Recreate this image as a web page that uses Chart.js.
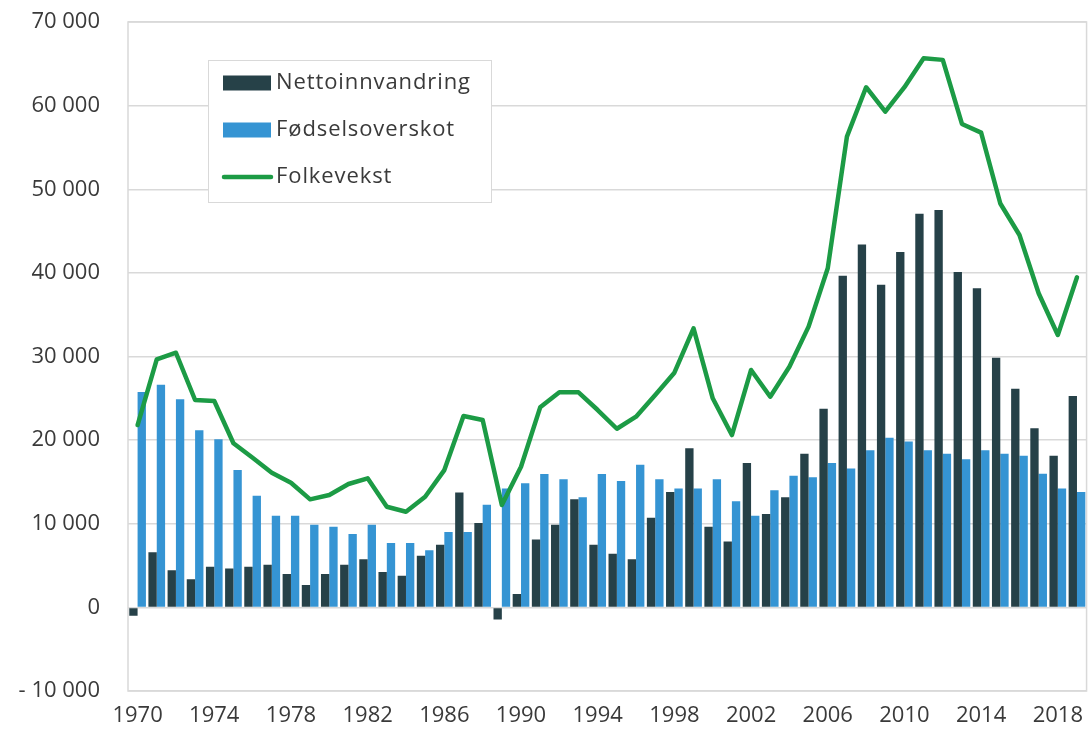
<!DOCTYPE html>
<html>
<head>
<meta charset="utf-8">
<script src="https://cdn.jsdelivr.net/npm/chart.js@4/dist/chart.umd.min.js"></script>
<style>
  html, body { margin: 0; padding: 0; background: #ffffff; }
  #wrap { width: 1089px; height: 729px; position: relative; }
</style>
</head>
<body>
<div id="wrap"><canvas id="c"></canvas></div>
<script>
const years = [];
for (let y = 1970; y <= 2019; y++) years.push(String(y));

const nettoinnvandring = [
  -1000, 6580, 4430, 3350, 4860, 4660, 4860, 5100, 3980, 2670,
  3980, 5100, 5740, 4220, 3780, 6170, 7490, 13750, 10080, -1440,
  1590, 8130, 9880, 12920, 7490, 6420, 5740, 10720, 13790, 19020,
  9640, 7890, 17260, 11160, 13160, 18380, 23760, 39670, 43380, 38590,
  42500, 47080, 47520, 40110, 38150, 29860, 26150, 21410, 18140, 25280
];

const fodselsoverskot = [
  25750, 26630, 24880, 21170, 20100, 16420, 13350, 10960, 10960, 9880,
  9640, 8770, 9880, 7690, 7690, 6820, 9010, 9010, 12270, 14230,
  14830, 15940, 15310, 13160, 15940, 15110, 17060, 15310, 14230, 14230,
  15310, 12680, 10960, 14000, 15740, 15550, 17260, 16620, 18780, 20290,
  19850, 18780, 18380, 17700, 18780, 18380, 18140, 15980, 14230, 13790
];

const folkevekst = [
  21800, 29650, 30450, 24800, 24680, 19620, 17900, 16100, 14900, 12920,
  13430, 14750, 15430, 12030, 11440, 13230, 16420, 22880, 22400, 12240,
  16820, 23920, 25720, 25720, 23600, 21360, 22800, 25400, 28060, 33370,
  25000, 20610, 28390, 25190, 28780, 33570, 40550, 56300, 62200, 59280,
  62200, 65670, 65470, 57810, 56770, 48300, 44530, 37560, 32570, 39470
];

const seriesNames = ['Nettoinnvandring', 'Fødselsoverskot', 'Folkevekst'];
const yMin = -10000, yMax = 70000, yStep = 10000;

const COL_DARK = '#264148';
const COL_BLUE = '#3594d3';
const COL_GREEN = '#1c9b45';
const GRID = '#d9d9d9';
const TEXT = '#3a3a3a';
const FONT = "'Open Sans', 'DejaVu Sans', sans-serif";

function fmt(v) {
  const neg = v < 0;
  const s = String(Math.abs(v)).replace(/\B(?=(\d{3})+(?!\d))/g, ' ');
  return neg ? '- ' + s : s;
}

const frameAndLegend = {
  id: 'frameAndLegend',
  beforeDatasetsDraw(chart) {
    const { ctx, chartArea: a } = chart;
    ctx.save();
    ctx.strokeStyle = GRID;
    ctx.lineWidth = 1.5;
    ctx.strokeRect(a.left, a.top, a.right - a.left, a.bottom - a.top);
    ctx.restore();
  },
  afterDatasetsDraw(chart) {
    const ctx = chart.ctx;
    ctx.save();
    const bx = 208, by = 60, bw = 283, bh = 142;
    ctx.fillStyle = '#ffffff';
    ctx.fillRect(bx, by, bw, bh);
    ctx.strokeStyle = '#d9d9d9';
    ctx.lineWidth = 1;
    ctx.strokeRect(bx + 0.5, by + 0.5, bw, bh);
    const rows = [83, 130, 177];
    const colors = [COL_DARK, COL_BLUE, COL_GREEN];
    ctx.font = "22px " + FONT;
    ctx.textBaseline = 'middle';
    ctx.textAlign = 'left';
    try { ctx.letterSpacing = '0.9px'; } catch (e) {}
    for (let i = 0; i < 3; i++) {
      const cy = rows[i];
      if (i < 2) {
        ctx.fillStyle = colors[i];
        ctx.fillRect(223, cy - 7.5, 48, 15);
      } else {
        ctx.strokeStyle = colors[i];
        ctx.lineWidth = 4.5;
        ctx.lineCap = 'round';
        ctx.beginPath();
        ctx.moveTo(224, cy);
        ctx.lineTo(271, cy);
        ctx.stroke();
      }
      ctx.fillStyle = TEXT;
      ctx.fillText(seriesNames[i], 276, cy);
    }
    ctx.restore();
  }
};

new Chart(document.getElementById('c'), {
  data: {
    labels: years,
    datasets: [
      {
        type: 'line',
        label: seriesNames[2],
        data: folkevekst,
        borderColor: COL_GREEN,
        backgroundColor: COL_GREEN,
        borderWidth: 4.5,
        pointRadius: 0,
        tension: 0,
        borderJoinStyle: 'round',
        borderCapStyle: 'round',
        order: 0
      },
      {
        type: 'bar',
        label: seriesNames[0],
        data: nettoinnvandring,
        backgroundColor: COL_DARK,
        categoryPercentage: 0.87,
        barPercentage: 1.0,
        order: 1
      },
      {
        type: 'bar',
        label: seriesNames[1],
        data: fodselsoverskot,
        backgroundColor: COL_BLUE,
        categoryPercentage: 0.87,
        barPercentage: 1.0,
        order: 1
      }
    ]
  },
  options: {
    responsive: true,
    maintainAspectRatio: false,
    animation: false,
    layout: { padding: { left: 0, top: 22, right: 2, bottom: 0 } },
    plugins: {
      legend: { display: false },
      tooltip: { enabled: false }
    },
    scales: {
      x: {
        type: 'category',
        offset: true,
        grid: { display: false, drawTicks: false },
        border: { display: false },
        ticks: {
          autoSkip: false,
          maxRotation: 0,
          minRotation: 0,
          padding: 12,
          color: TEXT,
          font: { family: FONT, size: 22 },
          callback: function (val, idx) { return idx % 4 === 0 ? years[idx] : ''; }
        },
        afterFit: function (s) { s.height = 38; }
      },
      y: {
        min: yMin,
        max: yMax,
        grid: { color: GRID, lineWidth: 1.5, drawTicks: true, tickLength: 25, tickColor: 'rgba(0,0,0,0)' },
        border: { display: false },
        ticks: {
          stepSize: yStep,
          padding: 3,
          color: TEXT,
          font: { family: FONT, size: 22 },
          callback: function (v) { return fmt(v); }
        },
        afterFit: function (s) { s.width = 128; }
      }
    }
  },
  plugins: [frameAndLegend]
});
</script>
</body>
</html>
